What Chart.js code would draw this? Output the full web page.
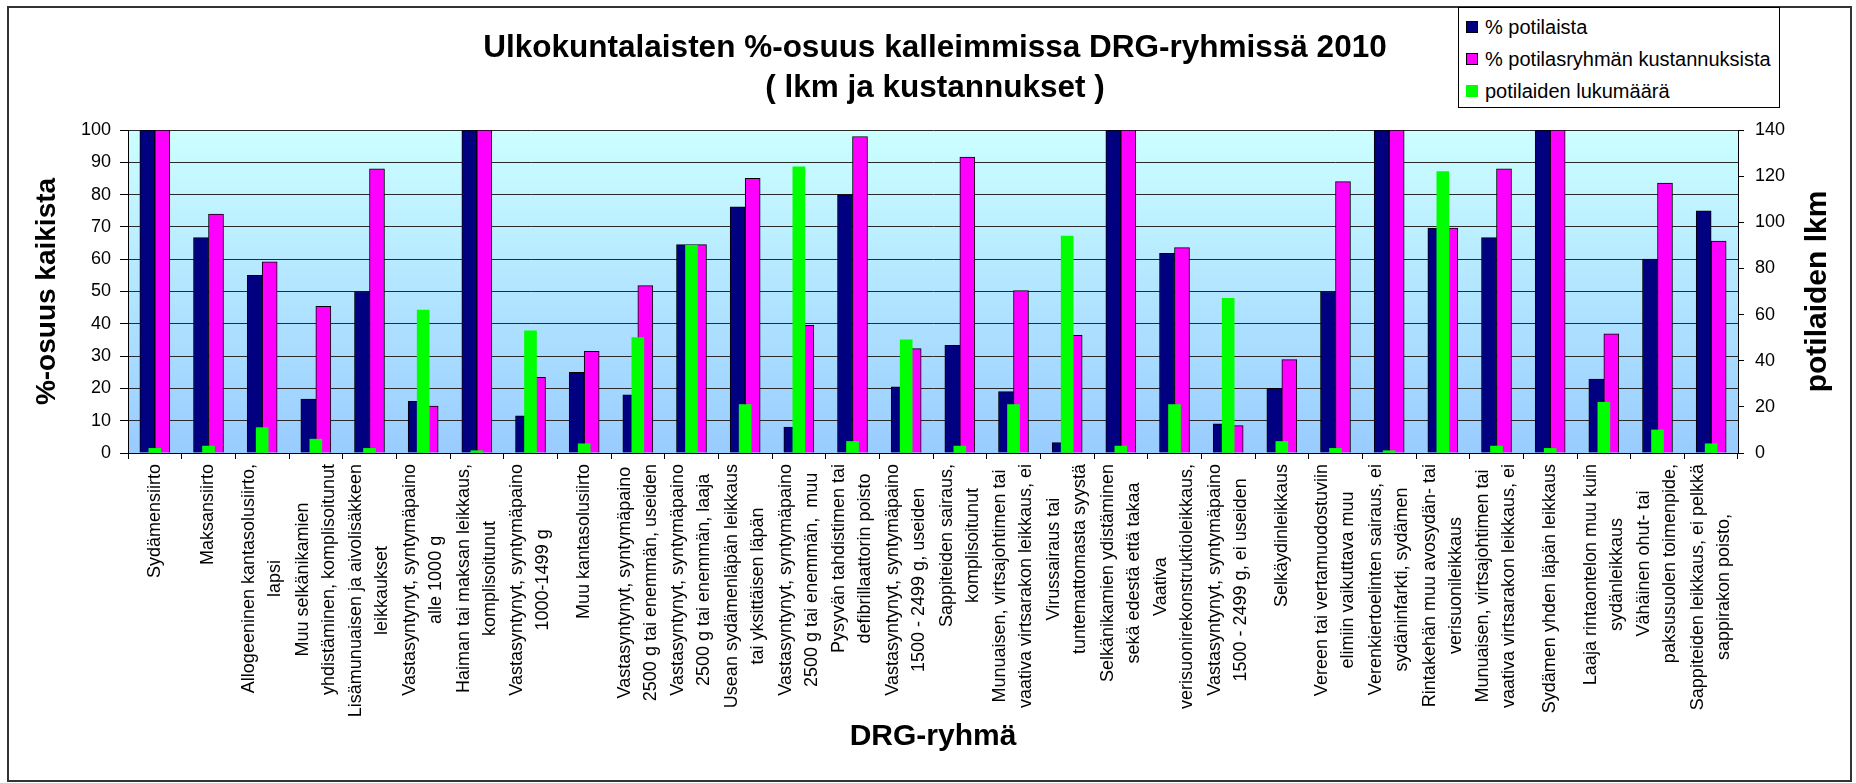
<!DOCTYPE html>
<html>
<head>
<meta charset="utf-8">
<script src="https://cdn.jsdelivr.net/npm/chart.js@4.4.1/dist/chart.umd.min.js"></script>
<style>
  html, body { margin: 0; padding: 0; background: #fff; }
  body { width: 1856px; height: 783px; overflow: hidden; position: relative; font-family: "Liberation Sans", Arial, sans-serif; }
  #frame { position: absolute; left: 7px; top: 6px; width: 1841px; height: 772px; border: 2px solid #333; }
  #chartWrap { position: absolute; left: 20px; top: 0; width: 1830px; height: 783px; }
  #legend { position: absolute; left: 1458px; top: 7px; width: 320px; height: 99px; border: 1px solid #000; background: #fff; }
  .lg-row { position: absolute; left: 7px; height: 24px; display: flex; align-items: center; font-size: 20px; color: #000; white-space: nowrap; }
  .lg-box { width: 12px; height: 12px; margin-right: 7px; box-sizing: border-box; flex-shrink: 0; }
</style>
</head>
<body>
<div id="frame"></div>
<div id="chartWrap"><canvas id="drgChart"></canvas></div>
<div id="legend"></div>
<script>
// DRG-ryhmät (rivitettynä kuten alkuperäisessä)
const DRG_LABELS = [
  ["Sydämensiirto"],
  ["Maksansiirto"],
  ["Allogeeninen kantasolusiirto,", "lapsi"],
  ["Muu selkänikamien", "yhdistäminen, komplisoitunut"],
  ["Lisämunuaisen ja aivolisäkkeen", "leikkaukset"],
  ["Vastasyntynyt, syntymäpaino", "alle 1000 g"],
  ["Haiman tai maksan leikkaus,", "komplisoitunut"],
  ["Vastasyntynyt, syntymäpaino", "1000-1499 g"],
  ["Muu kantasolusiirto"],
  ["Vastasyntynyt, syntymäpaino", "2500 g tai enemmän, useiden"],
  ["Vastasyntynyt, syntymäpaino", "2500 g tai enemmän, laaja"],
  ["Usean sydämenläpän leikkaus", "tai yksittäisen läpän"],
  ["Vastasyntynyt, syntymäpaino", "2500 g tai enemmän,  muu"],
  ["Pysyvän tahdistimen tai", "defibrillaattorin poisto"],
  ["Vastasyntynyt, syntymäpaino", "1500 - 2499 g, useiden"],
  ["Sappiteiden sairaus,", "komplisoitunut"],
  ["Munuaisen, virtsajohtimen tai", "vaativa virtsarakon leikkaus, ei"],
  ["Virussairaus tai", "tuntemattomasta syystä"],
  ["Selkänikamien ydistäminen", "sekä edestä että takaa"],
  ["Vaativa", "verisuonirekonstruktioleikkaus,"],
  ["Vastasyntynyt, syntymäpaino", "1500 - 2499 g, ei useiden"],
  ["Selkäydinleikkaus"],
  ["Vereen tai vertamuodostuviin", "elimiin vaikuttava muu"],
  ["Verenkiertoelinten sairaus, ei", "sydäninfarkti, sydämen"],
  ["Rintakehän muu avosydän- tai", "verisuonileikkaus"],
  ["Munuaisen, virtsajohtimen tai", "vaativa virtsarakon leikkaus, ei"],
  ["Sydämen yhden läpän leikkaus"],
  ["Laaja rintaontelon muu kuin", "sydänleikkaus"],
  ["Vähäinen ohut- tai", "paksusuolen toimenpide,"],
  ["Sappiteiden leikkaus, ei pelkkä", "sappirakon poisto,"]
];

// % potilaista
const PCT_PATIENTS = [100, 66.7, 55, 16.7, 50, 16, 100, 11.5, 25, 18, 64.5, 76.2, 8, 80, 20.5, 33.3, 19, 3.2, 100, 61.8, 9, 20, 50, 100, 69.6, 66.7, 100, 22.9, 60, 75];
// % potilasryhmän kustannuksista
const PCT_COSTS = [100, 74, 59.2, 45.4, 88, 14.5, 100, 23.4, 31.5, 51.8, 64.5, 85, 39.5, 98, 32.3, 91.6, 50.3, 36.4, 100, 63.6, 8.5, 28.9, 84, 100, 69.6, 88, 100, 36.9, 83.6, 65.6];
// potilaiden lukumäärä (oikea akseli)
const PATIENT_COUNT = [2, 3, 11, 6, 2, 62, 1, 53, 4, 50, 90, 21, 124, 5, 49, 3, 21, 94, 3, 21, 67, 5, 2, 1, 122, 3, 2, 22, 10, 4];

const TITLE_LINES = ["Ulkokuntalaisten %-osuus kalleimmissa DRG-ryhmissä 2010", "( lkm ja kustannukset )"];
const SERIES = [
  { label: "% potilaista", color: "#000080", border: true },
  { label: "% potilasryhmän kustannuksista", color: "#ff00ff", border: true },
  { label: "potilaiden lukumäärä", color: "#00ff00", border: false }
];

const FONT = '"Liberation Sans", Arial, sans-serif';
const LABEL_FONT_PX = 18;
const LABEL_LINE_H = 26;
const LABEL_GAP = 11;

Chart.defaults.font.family = FONT;
Chart.defaults.color = "#000";

function RENDER_LEGEND(){
  const box = document.getElementById("legend");
  SERIES.forEach((s, i) => {
    const row = document.createElement("div");
    row.className = "lg-row";
    row.style.top = (7 + i * 32) + "px";
    row.innerHTML = `
      <div class="lg-box" style="background:${s.color};${s.border ? "border:1px solid #000;" : ""}"></div>
      <div>${s.label}</div>
    `;
    box.appendChild(row);
  });
}

const plotBackground = {
  id: "plotBackground",
  beforeDraw(chart){
    const { ctx, chartArea: a } = chart;
    const g = ctx.createLinearGradient(0, a.top, 0, a.bottom);
    g.addColorStop(0, "#ccffff");
    g.addColorStop(1, "#99ccff");
    ctx.save();
    ctx.fillStyle = g;
    ctx.fillRect(a.left, a.top, a.right - a.left, a.bottom - a.top);
    ctx.restore();
  }
};

// rotated category labels, lines centred on each other like in Excel
const drgLabels = {
  id: "drgLabels",
  afterDraw(chart){
    const ctx = chart.ctx;
    const xs = chart.scales.x;
    ctx.save();
    ctx.font = LABEL_FONT_PX + "px " + FONT;
    ctx.fillStyle = "#000";
    ctx.textAlign = "center";
    ctx.textBaseline = "middle";
    DRG_LABELS.forEach((lines, i) => {
      const px = xs.getPixelForTick(i);
      const w = Math.max(...lines.map(l => ctx.measureText(l).width));
      ctx.save();
      ctx.translate(px, xs.top + LABEL_GAP);
      ctx.rotate(-Math.PI / 2);
      lines.forEach((l, j) => {
        ctx.fillText(l, -w / 2, (j - (lines.length - 1) / 2) * LABEL_LINE_H);
      });
      ctx.restore();
    });

    // right axis title reads bottom-to-top
    const y2 = chart.scales.y2;
    ctx.font = "bold 30px " + FONT;
    ctx.translate(y2.right - 32, (y2.top + y2.bottom) / 2);
    ctx.rotate(-Math.PI / 2);
    ctx.fillText("potilaiden lkm", 0, 0);
    ctx.restore();
  }
};

function RENDER_CHART(){
  const ctx = document.getElementById("drgChart");
  new Chart(ctx, {
    type: "bar",
    data: {
      labels: DRG_LABELS.map(l => l.join(" ")),
      datasets: [
        {
          label: SERIES[0].label,
          data: PCT_PATIENTS,
          backgroundColor: SERIES[0].color,
          borderColor: "#000",
          borderWidth: 1,
          barThickness: 15,
          yAxisID: "y",
          order: 1
        },
        {
          label: SERIES[1].label,
          data: PCT_COSTS,
          backgroundColor: SERIES[1].color,
          borderColor: "#000",
          borderWidth: 1,
          barThickness: 15,
          yAxisID: "y",
          order: 1
        },
        {
          label: SERIES[2].label,
          data: PATIENT_COUNT,
          backgroundColor: SERIES[2].color,
          borderWidth: 0,
          barThickness: 12,
          grouped: false,
          yAxisID: "y2",
          order: 0
        }
      ]
    },
    options: {
      responsive: true,
      maintainAspectRatio: false,
      devicePixelRatio: 1,
      animation: false,
      layout: { padding: 0 },
      plugins: {
        legend: { display: false },
        tooltip: { enabled: false },
        title: {
          display: true,
          text: TITLE_LINES,
          color: "#000",
          font: { size: 31.5, weight: "bold", lineHeight: "40px" },
          padding: { top: 28, bottom: 22 }
        }
      },
      scales: {
        x: {
          offset: true,
          grid: { offset: true, drawOnChartArea: false, tickLength: 6, tickColor: "#000" },
          border: { color: "#000", width: 1 },
          ticks: { display: false },
          title: {
            display: true,
            text: "DRG-ryhmä",
            font: { size: 30, weight: "bold" },
            padding: { top: 0, bottom: 28 }
          },
          afterFit(scale){ scale.height = 330; }
        },
        y: {
          position: "left",
          min: 0,
          max: 100,
          ticks: { stepSize: 10, font: { size: 18 }, padding: 9, color: "#000" },
          grid: { color: "#2a2a2a", tickColor: "#000", tickLength: 8 },
          border: { color: "#000", width: 1 },
          title: {
            display: true,
            text: "%-osuus kaikista",
            font: { size: 28, weight: "bold" },
            padding: { top: 10, bottom: 0 }
          },
          afterFit(scale){ scale.width = 108; }
        },
        y2: {
          position: "right",
          min: 0,
          max: 140,
          ticks: { stepSize: 20, font: { size: 18 }, padding: 11, color: "#000" },
          grid: { drawOnChartArea: false, tickColor: "#000", tickLength: 6 },
          border: { color: "#000", width: 1 },
          afterFit(scale){ scale.width = 112; }
        }
      }
    },
    plugins: [plotBackground, drgLabels]
  });
}

RENDER_LEGEND();
RENDER_CHART();
</script>
</body>
</html>
